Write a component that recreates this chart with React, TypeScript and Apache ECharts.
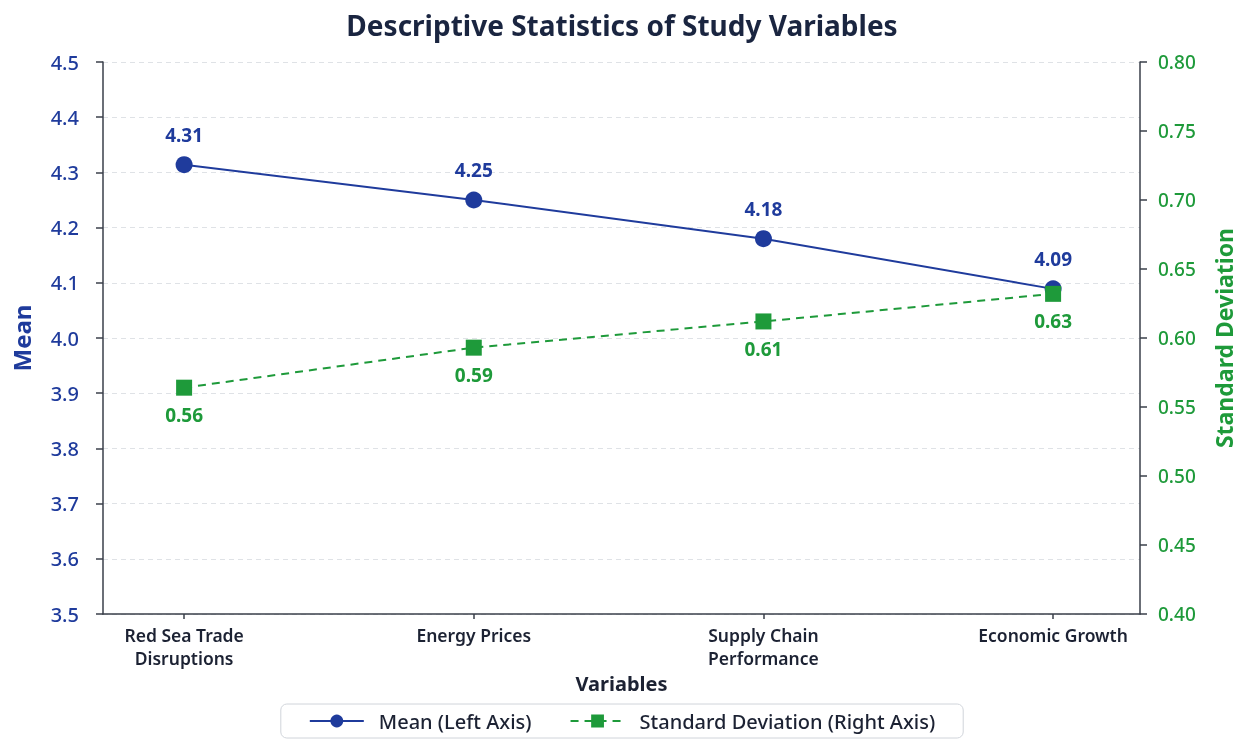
import React, { useEffect, useRef } from "react";
import * as echarts from "echarts";

const categories = ["Red Sea Trade\nDisruptions", "Energy Prices", "Supply Chain\nPerformance", "Economic Growth"];
const meanValues = [4.314, 4.25, 4.18, 4.089];
const sdValues = [0.564, 0.593, 0.612, 0.632];
const leftTicks = [3.5, 4.5, 0.1];
const rightTicks = [0.4, 0.8, 0.05];

const BLUE = "#1f3b9c";
const GREEN = "#1e9a3a";
const DARK = "#1c2233";
const FONT = "'Noto Sans', 'Open Sans', sans-serif";

export default function App() {
  const ref = useRef<HTMLDivElement>(null);
  useEffect(() => {
    if (!ref.current) return;
    const chart = echarts.init(ref.current, undefined, { renderer: "svg" });
    const idx = categories.map((_, i) => i);
    chart.setOption({
      animation: false,
      textStyle: { fontFamily: FONT },
      title: {
        text: "Descriptive Statistics of Study Variables",
        left: "center",
        top: 6,
        textStyle: { fontSize: 28, fontWeight: "bold", color: "#1a2540", fontFamily: FONT },
      },
      grid: { left: 103, right: 104, top: 62, bottom: 126, outerBoundsMode: "none", containLabel: false },
      legend: {
        bottom: 2,
        left: "center",
        itemWidth: 54,
        itemHeight: 16,
        itemGap: 38,
        padding: [7, 28],
        borderColor: "#d0d4da",
        borderWidth: 1,
        borderRadius: 6,
        textStyle: { fontSize: 20, fontWeight: 500, color: DARK, fontFamily: FONT, padding: [0, 0, 0, 10] },
        data: ["Mean (Left Axis)", "Standard Deviation (Right Axis)"],
      },
      xAxis: {
        type: "value",
        min: -0.28,
        max: 3.3,
        name: "Variables",
        nameLocation: "middle",
        nameGap: 57,
        nameTextStyle: { fontSize: 20, fontWeight: "bold", color: DARK, fontFamily: FONT },
        axisLine: { show: true, onZero: false, lineStyle: { color: "#3a3f4a", width: 1.5 } },
        axisTick: { show: true, length: 5, customValues: idx, lineStyle: { color: "#3a3f4a", width: 1.5 } },
        axisLabel: {
          customValues: idx,
          formatter: (v: number) => categories[Math.round(v)] ?? "",
          fontSize: 17.5,
          fontWeight: 600,
          color: DARK,
          lineHeight: 23,
          margin: 9,
          fontFamily: FONT,
        },
        splitLine: { show: false },
      },
      yAxis: [
        {
          type: "value",
          min: leftTicks[0],
          max: leftTicks[1],
          interval: leftTicks[2],
          position: "left",
          name: "Mean",
          nameLocation: "middle",
          nameRotate: 90,
          nameGap: 70,
          nameTextStyle: { fontSize: 24, fontWeight: "bold", color: BLUE, fontFamily: FONT },
          axisLine: { show: true, onZero: false, lineStyle: { color: "#3a3f4a", width: 1.5 } },
          axisTick: { show: true, length: 7, lineStyle: { color: "#3a3f4a", width: 1.5 } },
          axisLabel: { fontSize: 20, fontWeight: 500, color: BLUE, margin: 24, formatter: (v: number) => v.toFixed(1), fontFamily: FONT },
          splitLine: { show: true, lineStyle: { color: "#dfe2e6", type: [5, 4], width: 1 } },
        },
        {
          type: "value",
          min: rightTicks[0],
          max: rightTicks[1],
          interval: rightTicks[2],
          position: "right",
          name: "Standard Deviation",
          nameLocation: "middle",
          nameRotate: 90,
          nameGap: 72,
          nameTextStyle: { fontSize: 23, fontWeight: "bold", color: GREEN, fontFamily: FONT },
          axisLine: { show: true, onZero: false, lineStyle: { color: "#3a3f4a", width: 1.5 } },
          axisTick: { show: true, length: 7, lineStyle: { color: "#3a3f4a", width: 1.5 } },
          axisLabel: { fontSize: 19, fontWeight: 500, color: GREEN, margin: 18, formatter: (v: number) => v.toFixed(2), fontFamily: FONT },
          splitLine: { show: false },
        },
      ],
      series: [
        {
          name: "Mean (Left Axis)",
          type: "line",
          yAxisIndex: 0,
          data: meanValues.map((v, i) => [i, v]),
          symbol: "circle",
          symbolSize: 17,
          itemStyle: { color: BLUE },
          lineStyle: { color: BLUE, width: 2 },
          label: {
            show: true,
            position: "top",
            distance: 12,
            fontSize: 19,
            fontWeight: "bold",
            color: BLUE,
            fontFamily: FONT,
            formatter: (p: any) => p.value[1].toFixed(2),
          },
          z: 3,
        },
        {
          name: "Standard Deviation (Right Axis)",
          type: "line",
          yAxisIndex: 1,
          data: sdValues.map((v, i) => [i, v]),
          symbol: "rect",
          symbolSize: 16,
          itemStyle: { color: GREEN },
          lineStyle: { color: GREEN, width: 2, type: [8, 6] },
          label: {
            show: true,
            position: "bottom",
            distance: 10,
            fontSize: 19,
            fontWeight: "bold",
            color: GREEN,
            fontFamily: FONT,
            formatter: (p: any) => p.value[1].toFixed(2),
          },
          z: 4,
        },
      ],
    });
    return () => chart.dispose();
  }, []);
  return <div ref={ref} style={{ position: "fixed", left: 0, top: 0, width: 1244, height: 740 }} />;
}
